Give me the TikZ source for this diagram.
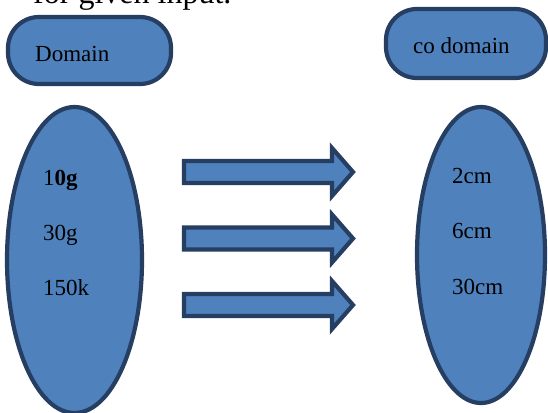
\documentclass[tikz,border=0pt]{standalone}
\usepackage{fontspec}
\setmainfont{Liberation Serif}
\usepackage{tikz}
\usetikzlibrary{shapes,positioning}
\definecolor{boxfill}{RGB}{79,129,189}
\definecolor{boxline}{RGB}{38,62,98}

\begin{document}
\begin{tikzpicture}[x=1pt,y=-1pt,
  every node/.style={font=\fontsize{23}{27}\selectfont},
  blob/.style={draw=boxline,fill=boxfill,line width=4.2pt},
  pill/.style={blob,rounded corners=31pt,inner sep=0pt},
  lbl/.style={anchor=base west,inner sep=0pt}]
\useasboundingbox (0,0) rectangle (548,412);
%line of text cut off at the top
\node[lbl,font=\fontsize{32}{38}\selectfont] (caption) at (33,4) {for given input.};
%title boxes
\node[pill,minimum width=163pt,minimum height=67pt] (domain) at (89.5,50.5) {};
\node[lbl] (domaintxt) at (35,61) {Domain};
\node[pill,minimum width=160pt,minimum height=69pt] (codomain) at (466,43.5) {};
\node[lbl] (codomaintxt) at (413,53) {co domain};
%the two sets
\node[blob,ellipse,minimum width=135pt,minimum height=306pt,inner sep=0pt] (domset) at (74.5,260) {};
\node[blob,ellipse,minimum width=128pt,minimum height=296pt,inner sep=0pt] (codset) at (481,255) {};
%inputs
\node[lbl] (10g) at (43,185) {1\textbf{0g}};
\node[lbl] (30g) at (43,240) {30g};
\node[lbl] (150k) at (43,295) {150k};
%outputs
\node[lbl] (2cm) at (452,183) {2cm};
\node[lbl] (6cm) at (452,238) {6cm};
\node[lbl] (30cm) at (452,294) {30cm};
%block arrows
\draw[blob,line join=miter] (184,161) -- (332,161) -- (332,148) -- (353,172) -- (332,196) -- (332,183) -- (184,183) -- cycle;
\draw[blob,line join=miter] (184,227.5) -- (332,227.5) -- (332,214.5) -- (353,238.5) -- (332,262.5) -- (332,249.5) -- (184,249.5) -- cycle;
\draw[blob,line join=miter] (184,294) -- (332,294) -- (332,281) -- (353,305) -- (332,329) -- (332,316) -- (184,316) -- cycle;
\end{tikzpicture}
\end{document}
